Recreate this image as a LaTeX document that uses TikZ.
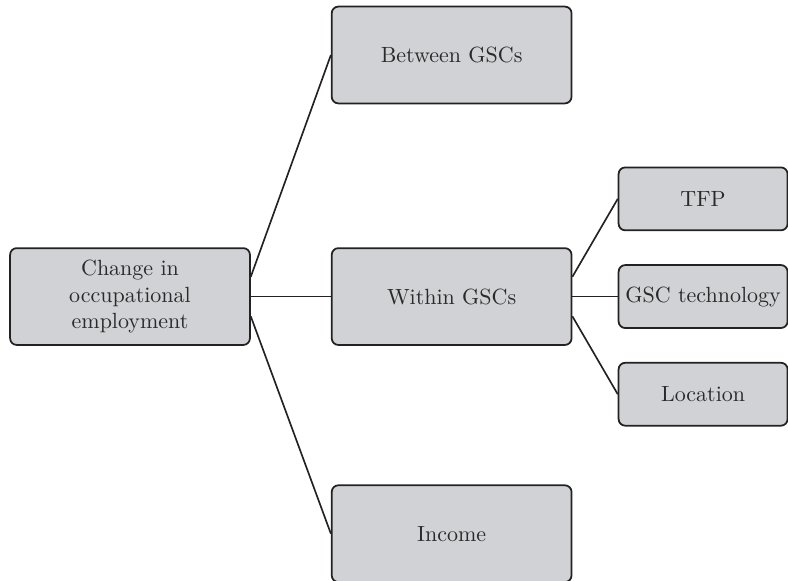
\documentclass[tikz,border=0pt]{standalone}
\usepackage{xcolor}
\usepackage{tikz}
\usetikzlibrary{positioning}
\definecolor{boxgray}{HTML}{D1D2D5}
\definecolor{boxborder}{HTML}{222222}
\definecolor{boxtext}{HTML}{2A2A2A}

\begin{document}
\begin{tikzpicture}[
    stage/.style={fill=boxgray, draw=boxborder, text=boxtext, line width=0.8pt,
          rounded corners=3pt, align=center, inner sep=3pt,
          minimum width=109pt, minimum height=44pt},
    factor/.style={stage, minimum width=76.8pt, minimum height=28.6pt},
    link/.style={draw=boxborder, line width=0.75pt}]
  \useasboundingbox (0,0) rectangle (358.2pt,-264.1pt);

  % decomposition
  \node[stage] (change) at (59.1pt,-134.8pt) {Change in\\occupational\\employment};
  \node[stage, right=36.4pt of change] (within) {Within GSCs};
  \node[stage, above=65pt of within] (between) {Between GSCs};
  \node[stage, below=63pt of within] (income) {Income};

  % drivers within GSCs
  \node[factor, right=20.6pt of within] (gsctech) {GSC technology};
  \node[factor, above=15pt of gsctech] (tfp) {TFP};
  \node[factor, below=15pt of gsctech] (location) {Location};

  \draw[link] ([yshift=9pt]change.east) -- (between.west);
  \draw[link] (change.east) -- (within.west);
  \draw[link] ([yshift=-9pt]change.east) -- (income.west);

  \draw[link] ([yshift=9pt]within.east) -- (tfp.west);
  \draw[link] (within.east) -- (gsctech.west);
  \draw[link] ([yshift=-9pt]within.east) -- (location.west);
\end{tikzpicture}
\end{document}
